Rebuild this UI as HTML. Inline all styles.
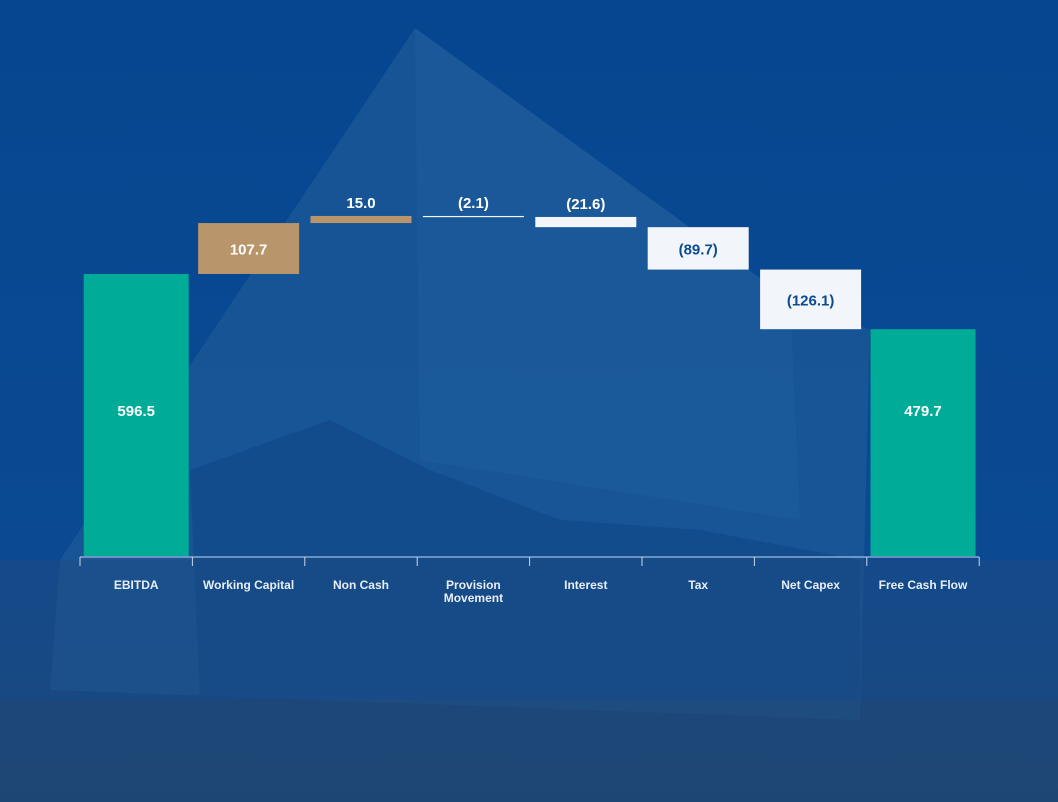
<!DOCTYPE html>
<html><head><meta charset="utf-8"><style>
body{margin:0;width:1058px;height:802px;overflow:hidden;background:#0a4791;font-family:"Liberation Sans",sans-serif}
svg{display:block}
</style></head><body>
<svg id="chart" width="1058" height="802" viewBox="0 0 1058 802">
<defs>
<linearGradient id="bg" x1="0" y1="0" x2="0" y2="1"><stop offset="0" stop-color="#064690"/><stop offset="0.7" stop-color="#0b4a93"/><stop offset="1" stop-color="#1a4478"/></linearGradient>
</defs>
<rect width="1058" height="802" fill="url(#bg)"/>
<g>
<polygon points="415,28 60,560 50,690 860,720 870,330 790,300" fill="#1a5797" opacity="0.85"/>
<polygon points="415,28 790,300 800,520 420,460" fill="#1d5c9c" opacity="0.6"/>
<polygon points="190,470 330,420 430,470 560,520 700,530 860,560 860,700 200,700" fill="#0e4686" opacity="0.55"/>
<rect x="0" y="560" width="1058" height="242" fill="#1f4c80" opacity="0.45"/>
<rect x="0" y="700" width="1058" height="102" fill="#24466c" opacity="0.4"/>
</g>
<g id="bars"></g>
<g id="axis"></g>
</svg>
<script>
const categories=["EBITDA","Working Capital","Non Cash","Provision|Movement","Interest","Tax","Net Capex","Free Cash Flow"];
const values=[596.5,107.7,15.0,-2.1,-21.6,-89.7,-126.1,479.7];
const labels=["596.5","107.7","15.0","(2.1)","(21.6)","(89.7)","(126.1)","479.7"];
const kinds=["total","up","up","down","down","down","down","total"];
const NS="http://www.w3.org/2000/svg";
const baseY=556, scale=0.4728, x0=80, step=112.4, barW=101;
const y=v=>baseY-v*scale;
const xc=i=>x0+step*(i+0.5);
const bars=document.getElementById('bars'), axis=document.getElementById('axis');
function mk(t,a,p){const e=document.createElementNS(NS,t);for(const k in a)e.setAttribute(k,a[k]);p.appendChild(e);return e;}
let run=0;
categories.forEach((c,i)=>{
  let a,b;
  if(kinds[i]==="total"){a=0;b=values[i];run=values[i];}
  else{a=run;b=run+values[i];run=b;}
  const top=y(Math.max(a,b)), bot=y(Math.min(a,b));
  const h=Math.max(bot-top,1.2);
  const w=(kinds[i]==="total")?105:barW;
  const fill=kinds[i]==="total"?"#00ab98":kinds[i]==="up"?"#b8956a":"#f2f5f9";
  const r=mk('rect',{x:xc(i)-w/2,y:top,width:w,height:h,fill:fill},bars);
  
  
  let ty, col="#fff";
  if(kinds[i]==="total"){ty=416;}
  else if(h>25){ty=(top+bot)/2+6; col=kinds[i]==="up"?"#fff":"#0d4a90";}
  else{ty=top-8;}
  const t=mk('text',{x:xc(i),y:ty,'text-anchor':'middle','font-size':15,'font-weight':'bold',fill:col},bars);
  t.textContent=labels[i];
  
  
});
const al=mk('line',{x1:x0,x2:x0+step*categories.length,y1:557,y2:557,stroke:'#c8d6e8','stroke-width':1},axis);


for(let i=0;i<=categories.length;i++){
  const tk=mk('line',{x1:x0+step*i,x2:x0+step*i,y1:557,y2:566,stroke:'#c8d6e8','stroke-width':1},axis);
  
  
}
categories.forEach((c,i)=>{
  const parts=c.split('|');
  parts.forEach((p,j)=>{
    const t=mk('text',{x:xc(i),y:589+j*13,'text-anchor':'middle','font-size':12,'font-weight':'bold',fill:'#e8eef6'},axis);
    t.textContent=p;
    
    
  });
});
</script>
</body></html>
